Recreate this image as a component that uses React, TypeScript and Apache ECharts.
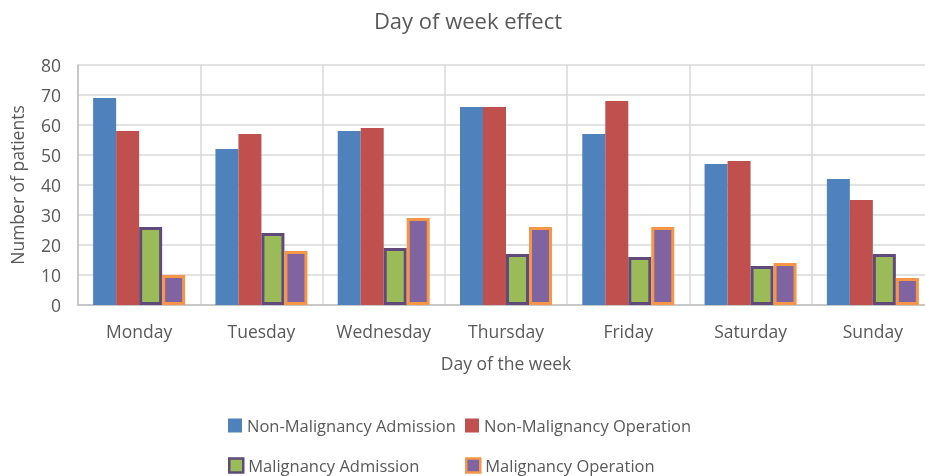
import React, { useEffect, useRef } from "react";
import * as echarts from "echarts";

const days = ["Monday", "Tuesday", "Wednesday", "Thursday", "Friday", "Saturday", "Sunday"];
const nonMalAdmission = [69, 52, 58, 66, 57, 47, 42];
const nonMalOperation = [58, 57, 59, 66, 68, 48, 35];
const malAdmission = [26, 24, 19, 17, 16, 13, 17];
const malOperation = [10, 18, 29, 26, 26, 14, 9];
const yTicks = { min: 0, max: 80, interval: 10 };

const FONT = "'Open Sans', 'Liberation Sans', sans-serif";
const TXT = "#595959";
const FS = 17.5;

export default function App() {
  const ref = useRef<HTMLDivElement>(null);
  useEffect(() => {
    if (!ref.current) return;
    const chart = echarts.init(ref.current, undefined, { renderer: "svg" });
    const names = [
      "Non-Malignancy Admission",
      "Non-Malignancy Operation",
      "Malignancy Admission",
      "Malignancy Operation",
    ];
    const styles = [
      { color: "#4F81BD" },
      { color: "#C0504D" },
      { color: "#9BBB59", borderColor: "#604A7B", borderWidth: 3 },
      { color: "#8064A2", borderColor: "#F79646", borderWidth: 3 },
    ];
    const legendPos = [
      { left: 228, top: 417 },
      { left: 465, top: 417 },
      { left: 228, top: 457 },
      { left: 465, top: 457 },
    ];
    const dataArr = [nonMalAdmission, nonMalOperation, malAdmission, malOperation];
    chart.setOption({
      animation: false,
      textStyle: { fontFamily: FONT },
      title: {
        text: "Day of week effect",
        left: 463,
        textAlign: "center",
        top: 4,
        textStyle: { fontFamily: FONT, fontSize: 22, fontWeight: "normal", color: TXT },
      },
      legend: names.map((n, i) => ({
        left: legendPos[i].left,
        top: legendPos[i].top,
        padding: 0,
        itemWidth: 14,
        itemHeight: 14,
        itemGap: 5,
        icon: "rect",
        data: [
          {
            name: n,
            itemStyle: i >= 2 ? { ...styles[i], borderWidth: 2.5 } : { ...styles[i] },
          },
        ],
        textStyle: { fontFamily: FONT, fontSize: 16.5, lineHeight: 14, color: TXT },
        selectedMode: false,
      })),
      grid: { left: 76, top: 65, width: 858, height: 240, containLabel: false },
      xAxis: {
        type: "category",
        data: days,
        name: "Day of the week",
        nameLocation: "middle",
        nameGap: 49,
        nameTextStyle: { fontFamily: FONT, fontSize: FS, color: TXT },
        axisLine: { lineStyle: { color: "#BFBFBF", width: 1.5 } },
        axisTick: { show: false },
        axisLabel: { interval: 0, fontFamily: FONT, fontSize: FS, color: TXT, margin: 17 },
        splitLine: { show: true, interval: 0, lineStyle: { color: "#D9D9D9", width: 1.5 } },
      },
      yAxis: {
        type: "value",
        min: yTicks.min,
        max: yTicks.max,
        interval: yTicks.interval,
        name: "Number of patients",
        nameLocation: "middle",
        nameGap: 52,
        nameTextStyle: { fontFamily: FONT, fontSize: FS, color: TXT },
        axisLine: { show: true, lineStyle: { color: "#BFBFBF", width: 1.5 } },
        axisTick: { show: false },
        axisLabel: { fontFamily: FONT, fontSize: FS, color: TXT, margin: 17 },
        splitLine: { show: true, lineStyle: { color: "#D9D9D9", width: 1.5 } },
      },
      series: names.map((n, i) => ({
        name: n,
        type: "bar",
        data: dataArr[i],
        barWidth: 23,
        barGap: "0%",
        itemStyle: styles[i],
      })),
    });
    return () => chart.dispose();
  }, []);
  return <div ref={ref} style={{ width: 945, height: 476, position: "fixed", left: 0, top: 0 }} />;
}
